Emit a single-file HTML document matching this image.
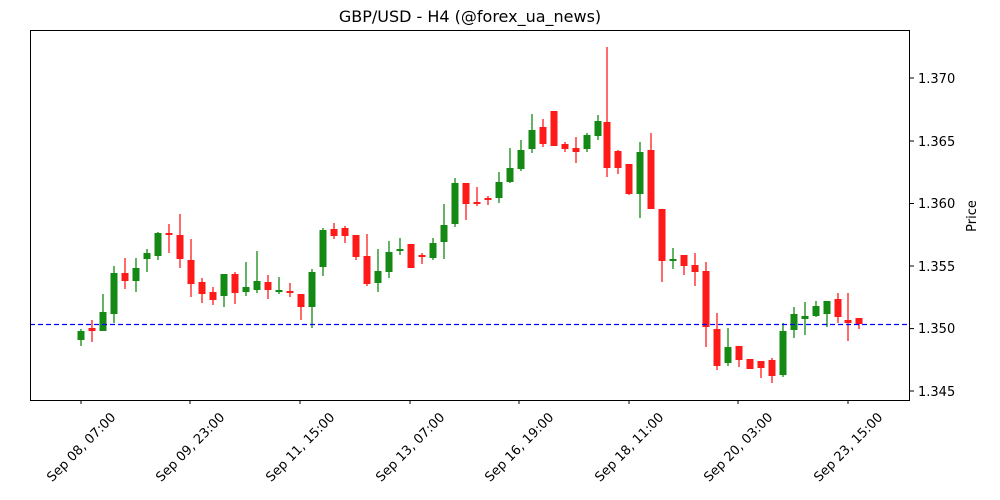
<!DOCTYPE html>
<html><head><meta charset="utf-8"><style>
html,body{margin:0;padding:0;background:#fff;}
svg{display:block;font-family:"DejaVu Sans","Liberation Sans",sans-serif;}
</style></head><body>
<svg id="s" width="1000" height="500" viewBox="0 0 1000 500" xmlns="http://www.w3.org/2000/svg">
<rect width="1000" height="500" fill="#fff"/>
<text x="470" y="22" font-size="16" text-anchor="middle">GBP/USD - H4 (@forex_ua_news)</text>
<g id="c"></g>
<line x1="30" y1="324.5" x2="910" y2="324.5" stroke="#0000ff" stroke-width="1.2" stroke-dasharray="5,3"/>
<rect x="30.5" y="30.5" width="879" height="370" fill="none" stroke="#000" stroke-width="1"/>
<g font-size="13" fill="#000">
<g stroke="#000"><line x1="910" y1="391" x2="914" y2="391"/><line x1="910" y1="328.6" x2="914" y2="328.6"/><line x1="910" y1="266" x2="914" y2="266"/><line x1="910" y1="203.5" x2="914" y2="203.5"/><line x1="910" y1="141" x2="914" y2="141"/><line x1="910" y1="78" x2="914" y2="78"/></g>
<text x="918" y="396">1.345</text><text x="918" y="333">1.350</text><text x="918" y="271">1.355</text><text x="918" y="208">1.360</text><text x="918" y="146">1.365</text><text x="918" y="83">1.370</text>
<text transform="translate(976,216) rotate(-90)" text-anchor="middle">Price</text>
</g>
<g id="xt" font-size="13"></g>
</svg>
<script>
var d=[[81,329,346,331,340,1],[92,320,342,328,331,0],[103,294,331,312,331,1],[114,266,323,273,314,1],[125,258,289,273,281,0],[136,258,292,268,281,1],[147,249,272,253,259,1],[158,232,260,233,256,1],[169,224,253,233,235,0],[180,214,268,235,259,0],[191,239,297,260,284,0],[202,278,303,282,294,0],[213,287,305,292,300,0],[224,274,307,274,296,1],[235,272,304,274,293,0],[246,262,296,287,292,1],[257,251,293,281,290,1],[268,275,299,282,290,0],[279,277,294,290,292,1],[290,283,297,291,293,0],[301,294,320,294,307,0],[312,269,328,272,307,1],[323,228,276,230,267,1],[334,223,239,229,236,0],[345,226,243,228,236,0],[356,235,260,235,257,0],[367,234,286,256,284,0],[378,249,292,271,283,1],[389,241,278,252,272,1],[400,238,255,249,251,1],[411,244,268,244,268,0],[422,253,264,255,257,0],[433,238,260,243,258,1],[444,204,259,225,242,1],[455,178,227,183,224,1],[466,183,220,183,204,0],[477,187,206,202,204,0],[488,196,205,198,200,0],[499,172,203,182,198,1],[510,148,183,168,182,1],[521,140,171,150,169,1],[532,114,153,130,149,1],[543,119,147,127,144,0],[554,111,146,111,146,0],[565,142,152,144,149,0],[576,137,163,148,152,0],[587,133,152,135,149,1],[598,115,140,121,136,1],[607,47,177,122,168,0],[618,150,174,151,168,0],[629,164,195,164,194,0],[640,142,218,152,194,1],[651,133,209,150,209,0],[662,209,282,209,261,0],[673,248,269,259,261,1],[684,255,275,255,266,0],[695,253,286,265,272,0],[706,262,347,271,327,0],[717,313,370,329,366,0],[728,328,366,347,363,1],[739,346,367,346,360,0],[750,359,369,359,369,0],[761,361,378,361,368,0],[772,358,383,360,376,0],[783,323,377,331,375,1],[794,307,338,314,330,1],[805,302,335,316,319,1],[816,301,317,306,316,1],[827,301,327,301,314,1],[838,293,323,299,317,0],[848,293,341,320,323,0],[859,318,329,318,324,0]];
var g=document.getElementById('c'),h='';
d.forEach(function(c){var col=c[5]?'#148a14':'#ff1a1a';var bh=Math.max(c[4]-c[3],2);
h+='<line x1="'+c[0]+'" x2="'+c[0]+'" y1="'+c[1]+'" y2="'+c[2]+'" stroke="'+col+'" stroke-width="1.3"/>';
h+='<rect x="'+(c[0]-3.5)+'" y="'+c[3]+'" width="7" height="'+bh+'" fill="'+col+'"/>';});
g.innerHTML=h;
var t=[[81,'Sep 08, 07:00'],[190,'Sep 09, 23:00'],[300,'Sep 11, 15:00'],[410,'Sep 13, 07:00'],[519,'Sep 16, 19:00'],[629,'Sep 18, 11:00'],[738,'Sep 20, 03:00'],[848,'Sep 23, 15:00']];
var s='';t.forEach(function(a){s+='<line x1="'+a[0]+'" x2="'+a[0]+'" y1="400" y2="404" stroke="#000"/><text transform="translate('+a[0]+',447) rotate(-45)" text-anchor="middle" dy="0.35em">'+a[1]+'</text>';});
document.getElementById('xt').innerHTML=s;
</script>
</body></html>
